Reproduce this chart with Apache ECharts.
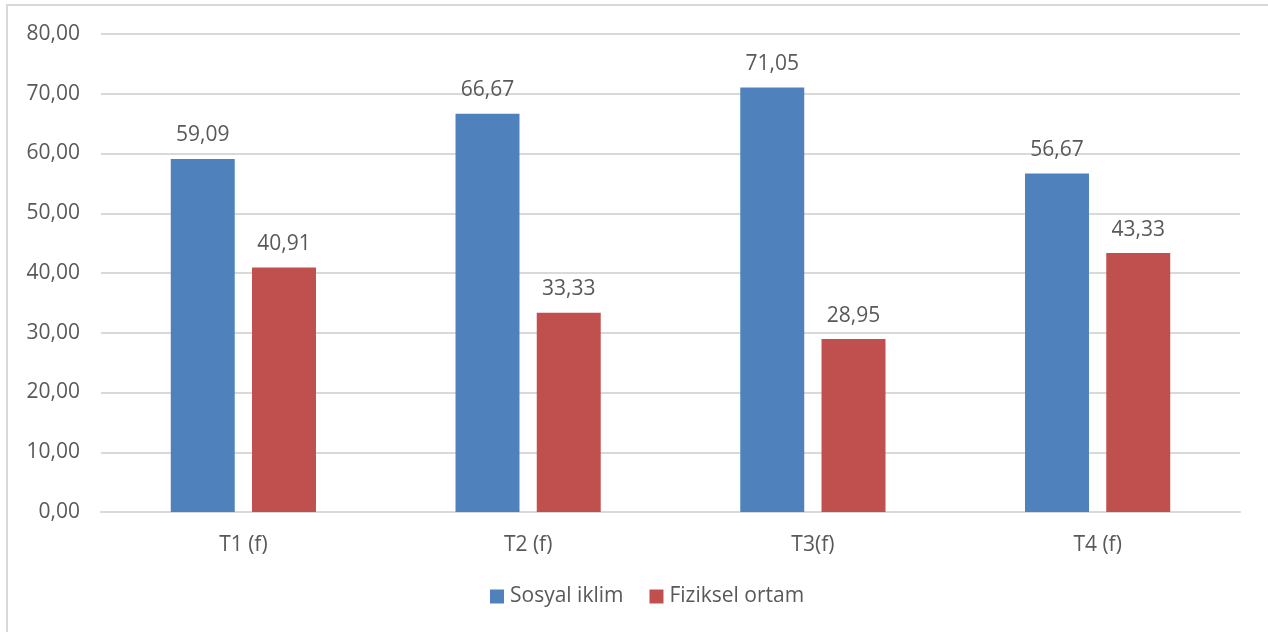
<!DOCTYPE html>
<html>
<head>
<meta charset="utf-8">
<script src="https://cdn.jsdelivr.net/npm/echarts@6/dist/echarts.min.js"></script>
<style>
html,body{margin:0;padding:0;background:#fff;}
#chart{width:1268px;height:632px;position:relative;}
#frame{position:absolute;left:6px;top:4px;width:1400px;height:800px;border-top:2px solid #d9d9d9;border-left:2px solid #d9d9d9;pointer-events:none;}
</style>
</head>
<body>
<div id="chart"></div>
<div id="frame"></div>
<script>
const categories = ['T1 (f)', 'T2 (f)', 'T3(f)', 'T4 (f)'];
const sosyalIklim = [59.09, 66.67, 71.05, 56.67];
const fizikselOrtam = [40.91, 33.33, 28.95, 43.33];
const seriesNames = ['Sosyal iklim', 'Fiziksel ortam'];

const fmt = v => v.toFixed(2).replace('.', ',');
const font = '"Open Sans", sans-serif';
const textColor = '#595959';
const fs = 21;

const chart = echarts.init(document.getElementById('chart'));
chart.setOption({
  animation: false,
  textStyle: { fontFamily: font },
  grid: { left: 101, right: 28, top: 34, bottom: 120, containLabel: false },
  legend: {
    bottom: 20,
    left: 485,
    itemWidth: 14,
    itemHeight: 14,
    itemGap: 26,
    icon: 'rect',
    textStyle: { fontFamily: font, fontSize: fs, color: textColor, padding: [0, 0, 0, 1] },
    data: seriesNames
  },
  xAxis: {
    type: 'category',
    data: categories,
    axisLine: { lineStyle: { color: '#d9d9d9', width: 2 } },
    axisTick: { show: false },
    axisLabel: { fontFamily: font, fontSize: fs, color: textColor, margin: 23 }
  },
  yAxis: {
    type: 'value',
    min: 0, max: 80, interval: 10,
    axisLine: { show: false },
    axisTick: { show: false },
    splitLine: { lineStyle: { color: '#d9d9d9', width: 2 } },
    axisLabel: { fontFamily: font, fontSize: fs, color: textColor, margin: 21, formatter: v => fmt(v) }
  },
  series: [
    {
      name: seriesNames[0], type: 'bar', data: sosyalIklim,
      barGap: '27%', barCategoryGap: '49%',
      itemStyle: { color: '#4f81bd' },
      label: { show: true, position: 'top', distance: 13, fontFamily: font, fontSize: fs, color: textColor, formatter: p => fmt(p.value) }
    },
    {
      name: seriesNames[1], type: 'bar', data: fizikselOrtam,
      itemStyle: { color: '#c0504d' },
      label: { show: true, position: 'top', distance: 13, fontFamily: font, fontSize: fs, color: textColor, formatter: p => fmt(p.value) }
    }
  ]
});
</script>
</body>
</html>
